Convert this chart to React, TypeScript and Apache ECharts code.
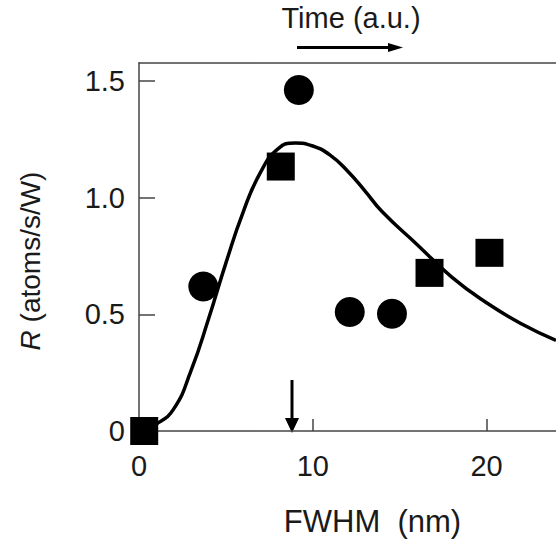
import React, { useEffect, useRef } from "react";
import * as echarts from "echarts";

const xTicks = [0, 10, 20];
const yTicks = [0, 0.5, 1.0, 1.5];
const yTickLabels = ["0", "0.5", "1.0", "1.5"];

const curveX = [0, 1, 2, 3, 4, 5, 6, 7, 8, 9, 10, 11, 12, 13, 14, 16, 18, 20, 22, 24];
const curveY = [0, 0.03, 0.095, 0.26, 0.48, 0.72, 0.94, 1.11, 1.21, 1.235, 1.222, 1.183, 1.115, 1.03, 0.94, 0.8, 0.66, 0.55, 0.46, 0.389];

const circleX = [3.7, 9.2, 12.13, 14.56];
const circleY = [0.62, 1.462, 0.51, 0.503];

const squareX = [0.3, 8.16, 16.72, 20.17];
const squareY = [0, 1.134, 0.678, 0.764];

const FONT = "Liberation Sans, Arial, sans-serif";
const INK = "#1a1a1a";
const AXIS = "#444";

export default function App() {
  const ref = useRef<HTMLDivElement>(null);
  useEffect(() => {
    if (!ref.current) return;
    const chart = echarts.init(ref.current, undefined, { renderer: "svg" });
    const zip = (xs: number[], ys: number[]) => xs.map((x, i) => [x, ys[i]]);
    chart.setOption({
      animation: false,
      backgroundColor: "#fff",
      grid: { left: 139, right: 0, top: 63, bottom: 109.5, show: false },
      xAxis: [
        {
          type: "value",
          min: 0,
          max: 24,
          interval: 10,
          position: "bottom",
          axisLine: { show: true, lineStyle: { color: AXIS, width: 1.5 } },
          axisTick: { show: true, inside: true, length: 12, lineStyle: { color: AXIS, width: 1.5 }, customValues: xTicks },
          axisLabel: { fontSize: 29, color: INK, fontFamily: FONT, margin: 20, customValues: xTicks },
          splitLine: { show: false },
          name: "FWHM  (nm)",
          nameLocation: "middle",
          nameGap: 75,
          nameTextStyle: { fontSize: 31, color: INK, fontFamily: FONT, padding: [0, 0, 0, 50] },
        },
        {
          type: "value",
          min: 0,
          max: 24,
          position: "top",
          axisLine: { show: true, lineStyle: { color: AXIS, width: 1.5 } },
          axisTick: { show: false },
          axisLabel: { show: false },
          splitLine: { show: false },
        },
      ],
      yAxis: {
        type: "value",
        min: 0,
        max: 1.578,
        axisLine: { show: true, lineStyle: { color: AXIS, width: 1.5 } },
        axisTick: { show: true, inside: true, length: 16, lineStyle: { color: AXIS, width: 1.5 }, customValues: yTicks },
        axisLabel: {
          fontSize: 29,
          color: INK,
          fontFamily: FONT,
          margin: 14,
          customValues: yTicks,
          formatter: (v: number) => {
            const i = yTicks.findIndex((t) => Math.abs(t - v) < 1e-6);
            return i >= 0 ? yTickLabels[i] : "";
          },
        },
        splitLine: { show: false },
      },
      graphic: [
        {
          type: "text",
          x: 30,
          y: 261,
          rotation: Math.PI / 2,
          style: {
            text: "{i|R} (atoms/s/W)",
            fontSize: 28,
            fontFamily: FONT,
            fill: INK,
            align: "center",
            verticalAlign: "middle",
            rich: { i: { fontStyle: "italic", fontSize: 28, fontFamily: FONT, fill: INK } },
          },
        },
        {
          type: "text",
          x: 351,
          y: 18,
          style: { text: "Time (a.u.)", fontSize: 29, fontFamily: FONT, fill: INK, align: "center", verticalAlign: "middle" },
        },
        { type: "line", shape: { x1: 297, y1: 47.5, x2: 392, y2: 47.5 }, style: { stroke: "#000", lineWidth: 3 } },
        { type: "polygon", shape: { points: [[388, 43], [403, 47.5], [388, 52]] }, style: { fill: "#000" } },
        { type: "line", shape: { x1: 292, y1: 380, x2: 292, y2: 420 }, style: { stroke: "#000", lineWidth: 3 } },
        { type: "polygon", shape: { points: [[285, 418], [299, 418], [292, 433]] }, style: { fill: "#000" } },
      ],
      series: [
        {
          type: "line",
          data: zip(curveX, curveY),
          smooth: 0.5,
          showSymbol: false,
          symbol: "none",
          lineStyle: { color: "#000", width: 3.5 },
          z: 2,
        },
        {
          type: "scatter",
          data: zip(circleX, circleY),
          symbol: "circle",
          symbolSize: 30,
          itemStyle: { color: "#000", opacity: 1 },
          z: 3,
        },
        {
          type: "scatter",
          data: zip(squareX, squareY),
          symbol: "rect",
          symbolSize: 28,
          itemStyle: { color: "#000", opacity: 1 },
          z: 3,
        },
      ],
    });
    return () => chart.dispose();
  }, []);
  return <div ref={ref} style={{ width: 556, height: 542, position: "fixed", left: 0, top: 0, background: "#fff" }} />;
}
